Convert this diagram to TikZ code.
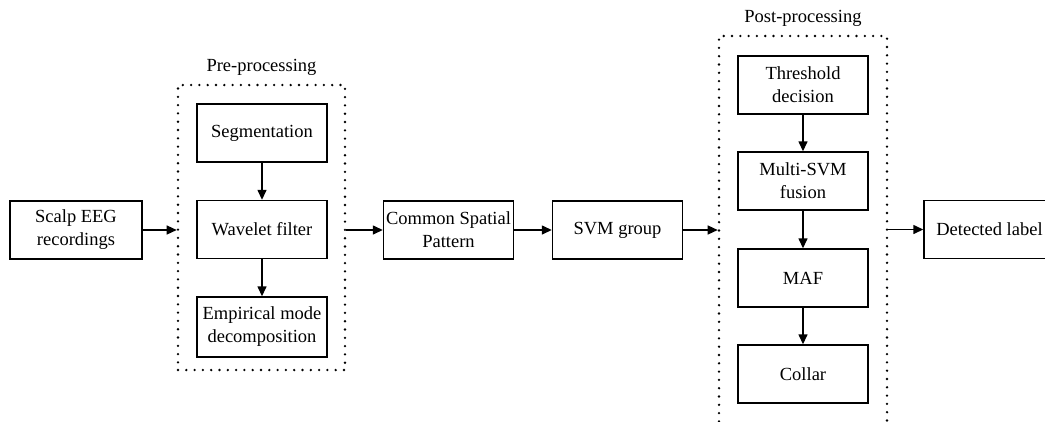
\documentclass[tikz,border=0pt]{standalone}
\usepackage{fontspec}
\setmainfont{Liberation Serif}
\usetikzlibrary{arrows.meta}

\begin{document}
\begin{tikzpicture}[x=1pt,y=-1pt,
  blk/.style={draw,line width=1.4pt,minimum width=130pt,minimum height=58pt,
    align=center,inner sep=2pt,font=\fontsize{18.5}{23}\selectfont},
  grp/.style={draw,line width=2.6pt,dash pattern=on 0pt off 8.3pt,line cap=round,
    minimum width=#1,inner sep=0pt},
  ttl/.style={font=\fontsize{18.5}{23}\selectfont,inner sep=0pt},
  arr/.style={line width=1.4pt,-{Triangle[length=10pt,width=9pt]}}]
\useasboundingbox (0,0) rectangle (1045,421);
\clip (0,0) rectangle (1045,421);

% dotted stage frames
\node[grp=167pt,minimum height=285pt] (pre) at (261.5,227.5) {};
\node[grp=168pt,minimum height=424pt] (post) at (803,248) {};
\node[ttl] (pretitle) at (261.5,67) {Pre-processing};
\node[ttl] (posttitle) at (803,18) {Post-processing};

% main chain
\node[blk,minimum width=132pt] (scalp) at (76,230) {Scalp EEG\\recordings};
\node[blk] (csp) at (448.5,230) {Common Spatial\\Pattern};
\node[blk] (svm) at (617.5,230) {SVM group};
\node[blk,minimum width=131pt] (det) at (989.5,229.5) {Detected label};

% pre-processing steps
\node[blk] (seg) at (262,133) {Segmentation};
\node[blk] (wav) at (262,229.5) {Wavelet filter};
\node[blk,minimum height=60pt] (emd) at (262,327) {Empirical mode\\decomposition};

% post-processing steps
\node[blk] (thr) at (803,85) {Threshold\\decision};
\node[blk] (msv) at (803,181) {Multi-SVM\\fusion};
\node[blk] (maf) at (803,278) {MAF};
\node[blk] (col) at (803,374) {Collar};

% horizontal flow
\draw[arr] (scalp.east) -- (scalp.east -| pre.west);
\draw[arr] (csp.west -| pre.east) -- (csp.west);
\draw[arr] (csp.east) -- (svm.west);
\draw[arr] (svm.east) -- (svm.east -| post.west);
\draw[arr] (det.west -| post.east) -- (det.west);

% vertical flow
\draw[arr] (seg.south) -- (wav.north);
\draw[arr] (wav.south) -- (emd.north);
\draw[arr] (thr.south) -- (msv.north);
\draw[arr] (msv.south) -- (maf.north);
\draw[arr] (maf.south) -- (col.north);
\end{tikzpicture}
\end{document}
